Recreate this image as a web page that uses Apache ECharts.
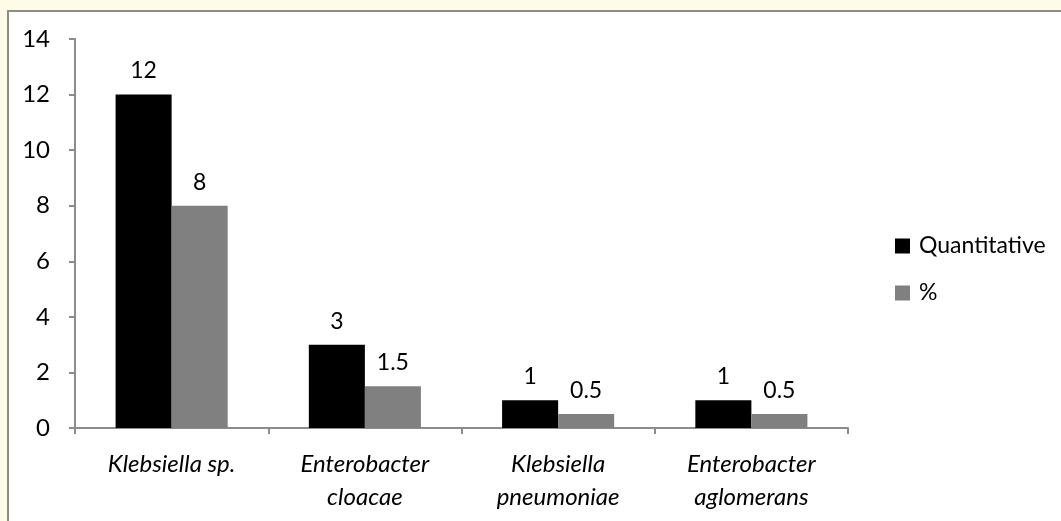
<!DOCTYPE html>
<html>
<head>
<meta charset="utf-8">
<script src="https://cdn.jsdelivr.net/npm/echarts@6/dist/echarts.min.js"></script>
<style>
  html, body { margin: 0; padding: 0; background: #fefbe6; }
  #chart { width: 1061px; height: 521px; }
</style>
</head>
<body>
<div id="chart"></div>
<script>
// 数据
const categories = ['Klebsiella sp.', 'Enterobacter\ncloacae', 'Klebsiella\npneumoniae', 'Enterobacter\naglomerans'];
const quantitative = [12, 3, 1, 1];
const percent = [8, 1.5, 0.5, 0.5];
const yTicks = { min: 0, max: 14, interval: 2 };

const myChart = echarts.init(document.getElementById('chart'));
const font = 'Lato, "Open Sans", sans-serif';

const option = {
  backgroundColor: '#fefbe6',
  animation: false,
  // 白色画布 + 灰色边框
  graphic: [{
    type: 'rect',
    left: 7,
    top: 10,
    shape: { width: 1070, height: 530 },
    style: { fill: '#ffffff', stroke: '#8c8c8c', lineWidth: 2 },
    z: -10
  }],
  grid: { left: 75, right: 213, top: 39, bottom: 93 },
  legend: {
    orient: 'vertical',
    left: 890,
    top: 229,
    itemWidth: 15,
    itemHeight: 15,
    itemGap: 23,
    icon: 'rect',
    textStyle: { fontFamily: font, fontSize: 23, lineHeight: 24, color: '#000', padding: [0, 0, 0, 4] },
    data: ['Quantitative', '%']
  },
  xAxis: {
    type: 'category',
    data: categories,
    axisLine: { lineStyle: { color: '#8c8c8c', width: 2 } },
    axisTick: { show: true, length: 6, lineStyle: { color: '#8c8c8c', width: 2 } },
    axisLabel: {
      margin: 20,
      fontFamily: font,
      fontSize: 24,
      fontStyle: 'italic',
      color: '#000',
      lineHeight: 33
    }
  },
  yAxis: {
    type: 'value',
    min: yTicks.min,
    max: yTicks.max,
    interval: yTicks.interval,
    splitLine: { show: false },
    axisLine: { show: true, lineStyle: { color: '#8c8c8c', width: 2 } },
    axisTick: { show: true, length: 6, lineStyle: { color: '#8c8c8c', width: 2 } },
    axisLabel: { margin: 25, fontFamily: font, fontSize: 24, color: '#000' }
  },
  series: [{
    name: 'Quantitative',
    type: 'bar',
    data: quantitative,
    barGap: '0%',
    barCategoryGap: '42%',
    itemStyle: { color: '#000000' },
    label: { show: true, position: 'top', distance: 12, fontFamily: font, fontSize: 23, color: '#000' }
  }, {
    name: '%',
    type: 'bar',
    data: percent,
    itemStyle: { color: '#808080' },
    label: { show: true, position: 'top', distance: 12, fontFamily: font, fontSize: 23, color: '#000' }
  }]
};

myChart.setOption(option);
</script>
</body>
</html>
